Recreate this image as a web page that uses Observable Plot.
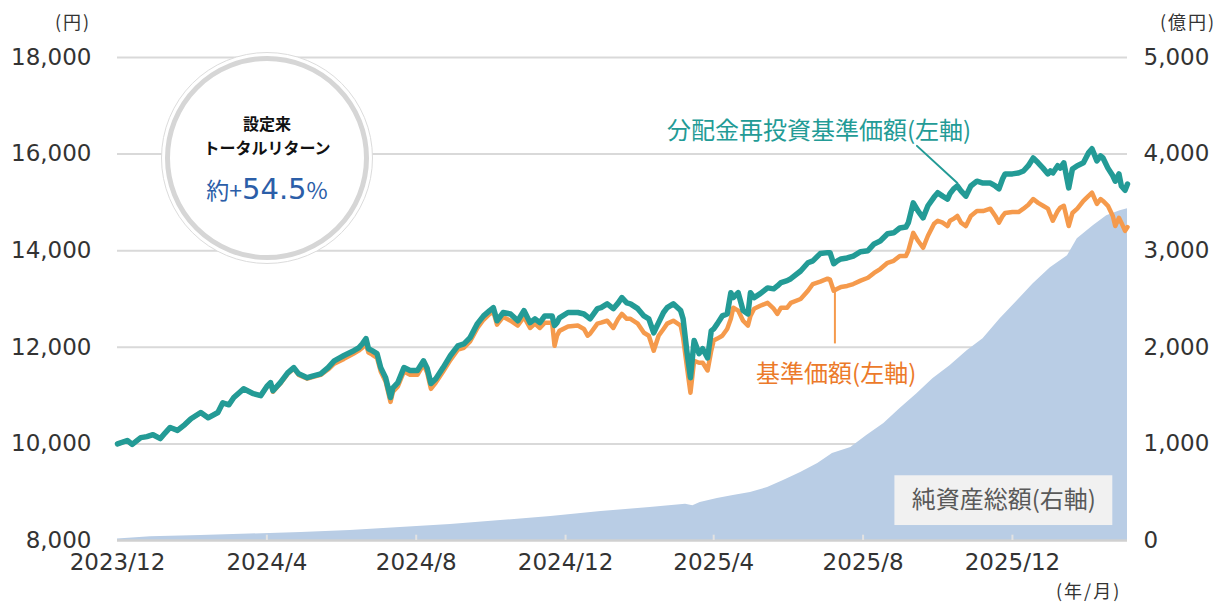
<!DOCTYPE html>
<html><head><meta charset="utf-8">
<script src="https://cdn.jsdelivr.net/npm/d3@7"></script>
<script src="https://cdn.jsdelivr.net/npm/@observablehq/plot@0.6"></script>
<style>
html,body{margin:0;padding:0;background:#fff;overflow:hidden;}
#wrap{position:relative;width:1213px;height:603px;font-family:"Noto Sans CJK JP","Noto Sans",sans-serif;}
.unit{position:absolute;font-size:18px;color:#333;line-height:1;white-space:nowrap;letter-spacing:2px;}
#circle{position:absolute;left:161px;top:52px;width:212px;height:212px;border:1.5px solid #dcdcdc;border-radius:50%;background:#fff;box-sizing:border-box;}
#circle .inner{position:absolute;left:3px;top:3px;right:3px;bottom:3px;border:5px solid #d6d6d6;border-radius:50%;}
#circle .t{position:absolute;left:0;right:0;text-align:center;color:#111;font-weight:700;font-size:16px;line-height:1;}
#circle .r{position:absolute;left:0;right:0;text-align:center;color:#2b5ea8;line-height:1;white-space:nowrap;}
</style></head>
<body><div id="wrap"></div>
<script>
// 分配金再投資基準価額 / 基準価額 (円)
const lineDates = ["2023-12-01","2023-12-09","2023-12-13","2023-12-20","2023-12-25","2023-12-30","2024-01-05","2024-01-09","2024-01-13","2024-01-19","2024-01-25","2024-01-30","2024-02-07","2024-02-13","2024-02-21","2024-02-25","2024-03-01","2024-03-05","2024-03-13","2024-03-21","2024-03-27","2024-04-01","2024-04-04","2024-04-06","2024-04-12","2024-04-18","2024-04-23","2024-04-27","2024-05-04","2024-05-09","2024-05-15","2024-05-21","2024-05-26","2024-06-03","2024-06-11","2024-06-15","2024-06-18","2024-06-21","2024-06-23","2024-06-26","2024-06-30","2024-07-03","2024-07-07","2024-07-11","2024-07-13","2024-07-17","2024-07-22","2024-07-27","2024-08-02","2024-08-07","2024-08-10","2024-08-13","2024-08-17","2024-08-23","2024-08-29","2024-09-04","2024-09-09","2024-09-14","2024-09-20","2024-09-25","2024-09-30","2024-10-03","2024-10-06","2024-10-11","2024-10-17","2024-10-23","2024-10-28","2024-11-02","2024-11-06","2024-11-10","2024-11-14","2024-11-20","2024-11-22","2024-11-24","2024-11-26","2024-12-03","2024-12-11","2024-12-16","2024-12-19","2024-12-21","2024-12-27","2024-12-30","2025-01-04","2025-01-09","2025-01-13","2025-01-16","2025-01-20","2025-01-23","2025-01-29","2025-02-03","2025-02-07","2025-02-11","2025-02-15","2025-02-19","2025-02-22","2025-02-27","2025-03-05","2025-03-07","2025-03-10","2025-03-13","2025-03-16","2025-03-20","2025-03-23","2025-03-27","2025-03-30","2025-04-01","2025-04-04","2025-04-08","2025-04-12","2025-04-15","2025-04-17","2025-04-21","2025-04-25","2025-04-29","2025-05-01","2025-05-04","2025-05-09","2025-05-15","2025-05-20","2025-05-23","2025-05-26","2025-05-31","2025-06-03","2025-06-11","2025-06-17","2025-06-21","2025-06-27","2025-07-03","2025-07-05","2025-07-08","2025-07-11","2025-07-14","2025-07-19","2025-07-24","2025-07-30","2025-08-05","2025-08-10","2025-08-15","2025-08-21","2025-08-26","2025-08-31","2025-09-05","2025-09-07","2025-09-11","2025-09-15","2025-09-19","2025-09-23","2025-09-28","2025-10-01","2025-10-05","2025-10-09","2025-10-11","2025-10-14","2025-10-17","2025-10-20","2025-10-24","2025-10-28","2025-11-02","2025-11-07","2025-11-13","2025-11-17","2025-11-20","2025-11-23","2025-11-25","2025-12-01","2025-12-06","2025-12-10","2025-12-14","2025-12-18","2025-12-22","2025-12-26","2025-12-30","2026-01-01","2026-01-03","2026-01-07","2026-01-09","2026-01-12","2026-01-16","2026-01-19","2026-01-23","2026-01-28","2026-02-01","2026-02-04","2026-02-08","2026-02-11","2026-02-13","2026-02-17","2026-02-21","2026-02-23","2026-02-26","2026-02-28","2026-03-03","2026-03-05"];
const navReinvested = [10000,10070,9990,10130,10150,10190,10110,10230,10340,10280,10400,10520,10650,10540,10650,10850,10810,10960,11140,11040,11000,11190,11270,11100,11270,11470,11580,11450,11370,11410,11450,11580,11720,11830,11930,11990,12070,12180,11970,11930,11870,11580,11370,10960,11160,11270,11580,11520,11520,11720,11560,11250,11350,11580,11830,12030,12070,12200,12490,12650,12760,12820,12550,12720,12690,12550,12760,12510,12590,12510,12650,12650,12450,12510,12610,12720,12720,12690,12630,12590,12800,12820,12900,12800,12920,13030,12920,12900,12800,12650,12590,12300,12510,12720,12820,12900,12760,12590,11930,11370,12140,11870,11970,11780,12340,12380,12490,12650,12690,13130,13030,13130,12760,12690,13130,13030,13110,13230,13210,13270,13340,13380,13420,13580,13750,13790,13940,13960,13960,13730,13790,13830,13850,13890,13980,14000,14140,14200,14350,14370,14470,14490,14580,14990,14820,14680,14930,15110,15200,15130,15070,15180,15280,15340,15240,15130,15340,15440,15400,15400,15340,15280,15490,15590,15590,15610,15650,15760,15920,15820,15710,15590,15650,15610,15760,15710,15820,15300,15690,15760,15820,16020,16110,15860,15960,15920,15710,15550,15440,15590,15340,15250,15380];
const nav = [10000,10070,9990,10130,10150,10190,10110,10230,10340,10280,10400,10520,10650,10540,10650,10850,10810,10960,11140,11040,11000,11190,11250,11080,11250,11450,11560,11430,11350,11390,11430,11540,11660,11760,11870,11930,11990,12070,11890,11850,11780,11500,11290,10870,11080,11190,11500,11430,11430,11640,11470,11140,11270,11500,11740,11950,11990,12120,12400,12570,12690,12740,12470,12630,12550,12450,12630,12400,12490,12400,12510,12510,12030,12240,12340,12430,12450,12380,12240,12280,12490,12510,12550,12400,12590,12690,12590,12590,12490,12300,12240,11930,12240,12380,12490,12550,12450,12200,11620,11060,11720,11680,11680,11520,11930,12140,12180,12240,12380,12590,12820,12760,12550,12450,12650,12800,12860,12920,12800,12690,12820,12820,12920,13000,13170,13310,13360,13420,13400,13170,13210,13250,13270,13310,13380,13440,13540,13620,13750,13790,13890,13890,14000,14370,14200,14060,14310,14560,14620,14580,14510,14620,14660,14720,14580,14510,14720,14820,14820,14870,14720,14580,14720,14780,14800,14800,14870,14950,15070,14990,14930,14870,14740,14620,14820,14890,14930,14510,14780,14870,15030,15130,15200,14970,15070,15030,14930,14720,14510,14680,14580,14410,14490];

// 純資産総額 (億円)
const aumDates = ["2023-12-01","2023-12-28","2024-02-07","2024-03-18","2024-04-29","2024-06-08","2024-07-19","2024-08-29","2024-10-09","2024-11-19","2024-12-30","2025-02-08","2025-03-09","2025-03-15","2025-03-21","2025-04-04","2025-04-17","2025-05-01","2025-05-15","2025-05-28","2025-06-11","2025-06-25","2025-07-07","2025-07-22","2025-08-04","2025-08-18","2025-08-31","2025-09-14","2025-09-27","2025-10-11","2025-10-25","2025-11-07","2025-11-21","2025-12-05","2025-12-18","2026-01-01","2026-01-15","2026-01-23","2026-02-05","2026-02-16","2026-02-27","2026-03-05"];
const aum = [15,40,52,67,83,103,134,165,207,248,300,341,375,360,393,434,465,496,548,620,703,796,900,962,1086,1210,1365,1520,1675,1810,1965,2089,2296,2482,2658,2823,2947,3123,3257,3361,3413,3433];

// axis ticks
const leftTicks = [8000,10000,12000,14000,16000,18000];
const rightTicks = [0,1000,2000,3000,4000,5000];
const xTickLabels = ["2023/12","2024/4","2024/8","2024/12","2025/4","2025/8","2025/12"];

const parse = d3.utcParse("%Y-%m-%d");
const lineData = lineDates.map((d,i)=>({date:parse(d), reinv:navReinvested[i], nav:nav[i]}));
const aumData = aumDates.map((d,i)=>({date:parse(d), aum:aum[i]}));
const xTicks = xTickLabels.map(s=>{const [y,m]=s.split("/"); return new Date(Date.UTC(+y, +m-1, 1));});
const toLeft = v => 8000 + v*2;  // right axis (0–5000 億円) mapped onto left axis (8000–18000 円)
const fmt = d3.format(",");
const labelOf = new Map(xTicks.map((d,i)=>[+d, xTickLabels[i]]));
const rightOf = new Map(leftTicks.map((d,i)=>[d, fmt(rightTicks[i])]));

const teal = "#239b96", orange = "#f59a4c", area = "#b9cde5";
const font = '"Noto Sans CJK JP","Noto Sans",sans-serif';
const numFont = '"DejaVu Sans",sans-serif';

const chart = Plot.plot({
  width: 1213, height: 603,
  marginLeft: 117, marginRight: 86, marginTop: 57, marginBottom: 63,
  style: {fontFamily: font, fontSize: "22px", color: "#333", background: "transparent"},
  x: {type: "utc", domain: [parse("2023-12-01"), parse("2026-03-05")]},
  y: {domain: [8000, 18000]},
  marks: [
    Plot.gridY(leftTicks.filter(d=>d>8000), {stroke: "#d9d9d9", strokeOpacity: 1, strokeWidth: 2}),
    Plot.areaY(aumData, {x: "date", y1: 8000, y2: d => toLeft(d.aum), fill: area, fillOpacity: 1}),
    Plot.ruleY([8000], {stroke: "#d0d0d0", strokeWidth: 2.5}),
    Plot.ruleX(xTicks.slice(1), {y1: 8000, y2: 8110, stroke: "#e2e2e2", strokeWidth: 2}),
    Plot.line(lineData, {x: "date", y: "nav", stroke: orange, strokeWidth: 4.5, strokeLinejoin: "round"}),
    Plot.line(lineData, {x: "date", y: "reinv", stroke: teal, strokeWidth: 5.5, strokeLinejoin: "round"}),
    Plot.axisY(leftTicks, {anchor: "left", tickSize: 0, tickPadding: 26, tickFormat: fmt, label: null, fontSize: 23, fontFamily: numFont, fill: "#333"}),
    Plot.axisY(leftTicks, {anchor: "right", tickSize: 0, tickPadding: 16, tickFormat: d => rightOf.get(d), label: null, fontSize: 23, fontFamily: numFont, fill: "#333"}),
    Plot.axisX(xTicks, {tickSize: 0, tickPadding: 13, tickFormat: d => labelOf.get(+d), label: null, fontSize: 23, fontFamily: numFont, fill: "#333"}),
    // leader lines and series labels
    Plot.line([{date: parse("2025-09-14"), v: 16170}, {date: parse("2025-10-17"), v: 15400}], {x: "date", y: "v", stroke: teal, strokeWidth: 2}),
    Plot.text(["分配金再投資基準価額(左軸)"], {x: parse("2025-06-26"), y: 16480, fill: teal, fontSize: 24, textAnchor: "middle"}),
    Plot.ruleX([parse("2025-07-09")], {y1: 12070, y2: 13150, stroke: orange, strokeWidth: 2}),
    Plot.text(["基準価額(左軸)"], {x: parse("2025-07-10"), y: 11450, fill: "#ec7a2a", fontSize: 24, textAnchor: "middle"}),
    Plot.rect([0], {x1: parse("2025-08-27"), x2: parse("2026-02-21"), y1: 8310, y2: 9340, fill: "#f1f1f1"}),
    Plot.text(["純資産総額(右軸)"], {x: parse("2025-11-24"), y: 8825, fill: "#595959", fontSize: 24, textAnchor: "middle"})
  ]
});
const wrap = document.getElementById("wrap");
chart.style.position = "absolute"; chart.style.left = "0"; chart.style.top = "0";
wrap.appendChild(chart);

function addText(txt, css){ const s=document.createElement("div"); s.className="unit"; s.textContent=txt; Object.assign(s.style, css); wrap.appendChild(s); }
addText("(円)", {left: "55px", top: "12px"});
addText("(億円)", {left: "1160px", top: "12px"});
addText("(年/月)", {left: "1056px", top: "581px"});

const c = document.createElement("div"); c.id = "circle";
c.innerHTML = '<div class="inner"></div>' +
  '<div class="t" style="top:62px">設定来</div>' +
  '<div class="t" style="top:86px">トータルリターン</div>' +
  '<div class="r" style="top:122px"><span style="font-size:23px">約+</span><span style="font-size:29px;font-family:\'DejaVu Sans\'">54.5</span><span style="font-size:23px">%</span></div>';
wrap.appendChild(c);
</script>
</body></html>
